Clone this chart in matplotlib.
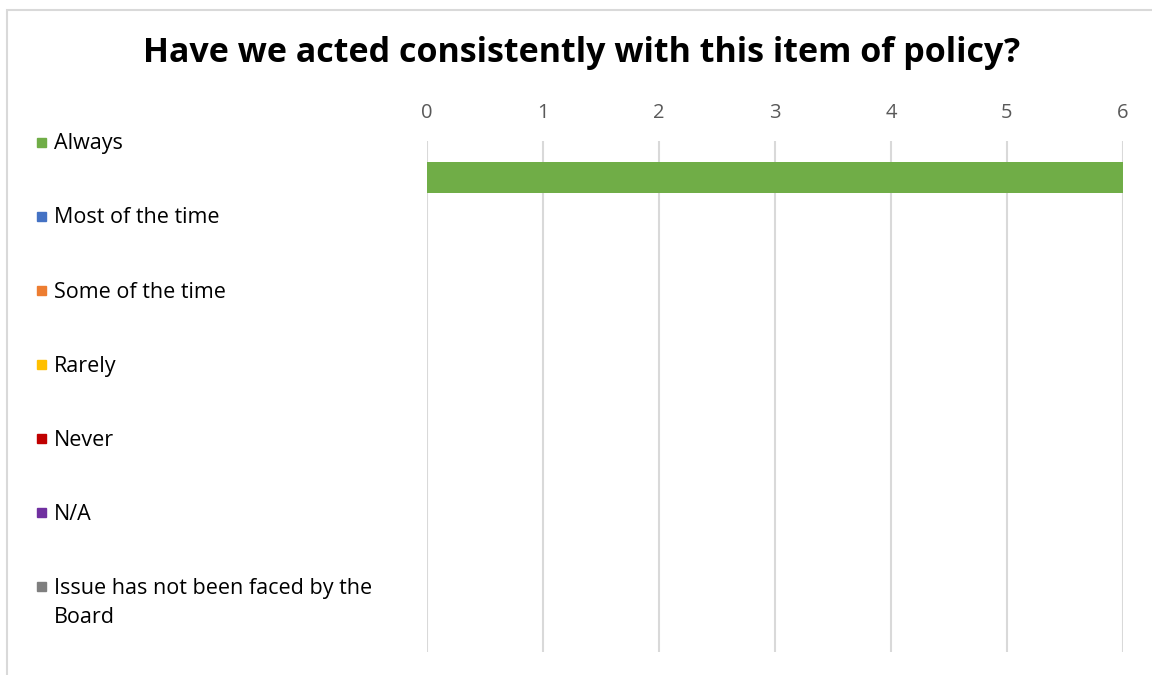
import matplotlib
matplotlib.use("Agg")
import matplotlib.pyplot as plt
from matplotlib.patches import Rectangle

plt.rcParams['font.family'] = ['Open Sans', 'DejaVu Sans']

title = 'Have we acted consistently with this item of policy?'
categories = ['Always', 'Most of the time', 'Some of the time', 'Rarely',
              'Never', 'N/A', 'Issue has not been faced by the\nBoard']
counts = [6, 0, 0, 0, 0, 0, 0]
colors = ['#70AD47', '#4472C4', '#ED7D31', '#FFC000',
          '#C00000', '#7030A0', '#7F7F7F']
xticks = [0, 1, 2, 3, 4, 5, 6]

W, H = 1152, 675
fig = plt.figure(figsize=[W / 100, H / 100], dpi=100)

# chart frame (right/bottom edges fall outside the picture)
fig.patches.append(Rectangle((7 / W, -0.05), 1.2, 1 - 9.5 / H + 0.05,
                             transform=fig.transFigure, fill=False,
                             edgecolor='#d9d9d9', linewidth=1.5))

ax = fig.add_axes([427 / W, 1 - 652 / H, (1123 - 427) / W, (652 - 141) / H])
ypos = list(range(len(categories)))
ax.barh(ypos, counts, height=0.43, color=colors, zorder=3)
ax.set_xlim(0, 6)
ax.set_ylim(len(categories) - 0.5, -0.5)
ax.set_xticks(xticks)
ax.set_yticks([])
ax.xaxis.tick_top()
ax.tick_params(axis='x', length=0, pad=13, labelsize=14.5, labelcolor='#595959')
ax.grid(axis='x', color='#d9d9d9', linewidth=1.5, zorder=0)
for s in ax.spines.values():
    s.set_visible(False)

fig.text(582 / W, 1 - 53 / H, title, ha='center', va='center',
         fontsize=24.5, fontweight='bold', color='black')

# legend on the left
top, step = 144, 74
for i, (lab, c) in enumerate(zip(categories, colors)):
    yc = top + i * step
    fig.patches.append(Rectangle((37 / W, 1 - (yc + 3) / H), 9 / W, 9 / H,
                                 transform=fig.transFigure, color=c))
    nl = lab.count('\n')
    fig.text(54 / W, 1 - (yc + 15 * nl) / H, lab, ha='left', va='center',
             fontsize=15.5, color='black', linespacing=1.5)

fig.savefig('out.png', dpi=100)
